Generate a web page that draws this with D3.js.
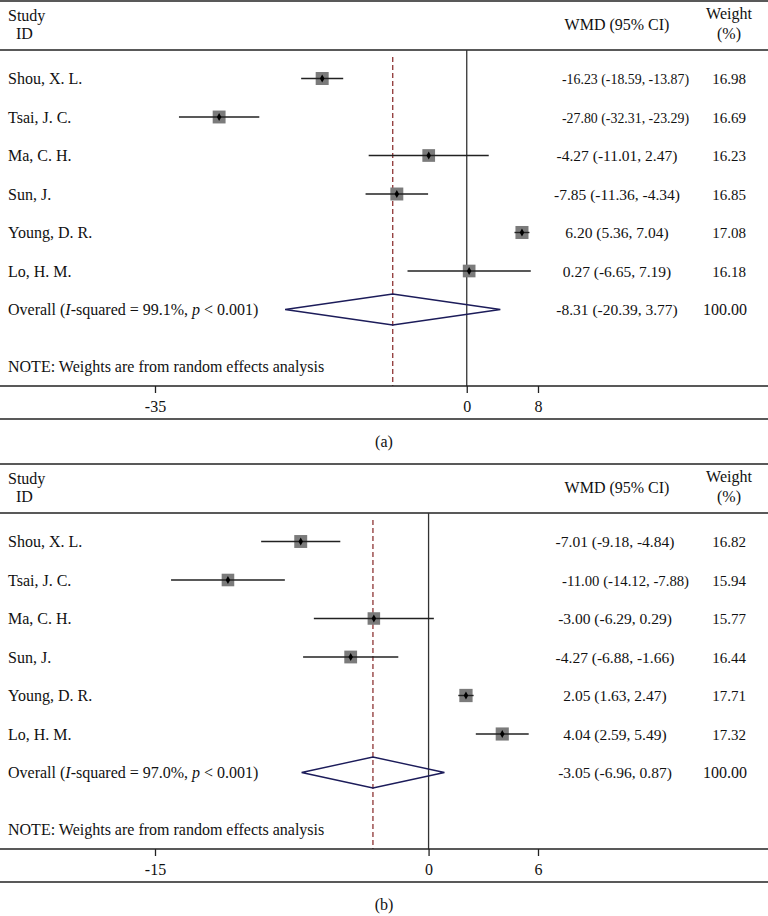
<!DOCTYPE html>
<html><head><meta charset="utf-8">
<script src="https://cdn.jsdelivr.net/npm/d3@7"></script>
<style>
body{margin:0;background:#fff;}
text{font-family:"Liberation Serif","Times New Roman",serif;font-size:16px;fill:#111;}
text.num{font-size:15.5px;}
text.wt{font-size:15px;}
</style></head>
<body><svg id="chart" width="768" height="916"></svg>
<script>
// ---------- DATA ----------
const studies = ["Shou, X. L.", "Tsai, J. C.", "Ma, C. H.", "Sun, J.", "Young, D. R.", "Lo, H. M."];

const estA  = [-16.23, -27.80, -4.27, -7.85, 6.20, 0.27];
const lowA  = [-18.59, -32.31, -11.01, -11.36, 5.36, -6.65];
const highA = [-13.87, -23.29, 2.47, -4.34, 7.04, 7.19];
const wA    = [16.98, 16.69, 16.23, 16.85, 17.08, 16.18];
const overallA = {est: -8.31, low: -20.39, high: 3.77, w: 100.00, i2: "99.1%", p: "0.001"};
const ticksA = [-35, 0, 8];

const estB  = [-7.01, -11.00, -3.00, -4.27, 2.05, 4.04];
const lowB  = [-9.18, -14.12, -6.29, -6.88, 1.63, 2.59];
const highB = [-4.84, -7.88, 0.29, -1.66, 2.47, 5.49];
const wB    = [16.82, 15.94, 15.77, 16.44, 17.71, 17.32];
const overallB = {est: -3.05, low: -6.96, high: 0.87, w: 100.00, i2: "97.0%", p: "0.001"};
const ticksB = [-15, 0, 6];

const captions = ["(a)", "(b)"];
const noteText = "NOTE: Weights are from random effects analysis";

// ---------- DRAW ----------
const svg = d3.select("#chart");
const fmt = v => v.toFixed(2);

function ciText(g, str, cx, y) {
  const t = g.append("text").attr("class", "num").attr("x", cx).attr("y", y).attr("text-anchor", "middle").text(str);
  const nat = t.node().getComputedTextLength();
  if (nat > 128) {
    t.attr("textLength", 127).attr("lengthAdjust", "spacingAndGlyphs").attr("text-anchor", "start").attr("x", 562);
  }
  return t;
}

function panel(y0, est, low, high, w, ov, ticks, caption, numX) {
  const g = svg.append("g").attr("transform", `translate(0,${y0})`);
  const x = d3.scaleLinear().domain([ticks[0], ticks[ticks.length - 1]]).range([155, 538]);
  const rowY = d3.scalePoint().domain(d3.range(7)).range([78.5, 309.5]);
  const axisY = 386, headY = 50;

  // frame lines
  g.append("line").attr("x1", 0).attr("x2", 768).attr("y1", 1).attr("y2", 1).attr("stroke", "#222").attr("stroke-width", 1.5);
  g.append("line").attr("x1", 0).attr("x2", 768).attr("y1", headY).attr("y2", headY).attr("stroke", "#222").attr("stroke-width", 1.5);
  g.append("line").attr("x1", 0).attr("x2", 768).attr("y1", 419).attr("y2", 419).attr("stroke", "#222").attr("stroke-width", 1.5);

  // headers
  g.append("text").attr("x", 8).attr("y", 20.5).text("Study");
  g.append("text").attr("x", 16).attr("y", 39).text("ID");
  g.append("text").attr("x", 617).attr("y", 30).attr("text-anchor", "middle").text("WMD (95% CI)");
  g.append("text").attr("x", 729).attr("y", 19).attr("text-anchor", "middle").text("Weight");
  g.append("text").attr("x", 729).attr("y", 39).attr("text-anchor", "middle").text("(%)");

  // zero line
  g.append("line").attr("x1", x(0)).attr("x2", x(0)).attr("y1", headY).attr("y2", axisY)
    .attr("stroke", "#333").attr("stroke-width", 1.3);
  // overall dashed line
  g.append("line").attr("x1", x(ov.est)).attr("x2", x(ov.est)).attr("y1", headY + 7).attr("y2", axisY)
    .attr("stroke", "#8e3434").attr("stroke-width", 1.3).attr("stroke-dasharray", "5,3");

  studies.forEach((s, i) => {
    const y = rowY(i);
    g.append("text").attr("x", 8).attr("y", y + 5.5).text(s);
    const side = 13 * Math.sqrt(w[i] / 17);
    g.append("rect").attr("x", x(est[i]) - side / 2).attr("y", y - side / 2).attr("width", side).attr("height", side)
      .attr("fill", "#7b7b7b");
    g.append("line").attr("x1", x(low[i])).attr("x2", x(high[i])).attr("y1", y).attr("y2", y)
      .attr("stroke", "#222").attr("stroke-width", 1.4);
    g.append("path").attr("d", d3.symbol().type(d3.symbolDiamond).size(18)()).attr("transform", `translate(${x(est[i])},${y})`)
      .attr("fill", "#000");
    ciText(g, `${fmt(est[i])} (${fmt(low[i])}, ${fmt(high[i])})`, numX, y + 5.5);
    g.append("text").attr("class", "wt").attr("x", 729).attr("y", y + 5.5).attr("text-anchor", "middle").text(fmt(w[i]));
  });

  // overall row
  const oy = rowY(6);
  const t = g.append("text").attr("x", 8).attr("y", oy + 5.5);
  t.append("tspan").text("Overall (");
  t.append("tspan").attr("font-style", "italic").text("I");
  t.append("tspan").text(`-squared = ${ov.i2}, `);
  t.append("tspan").attr("font-style", "italic").text("p");
  t.append("tspan").text(` < ${ov.p})`);
  g.append("path")
    .attr("d", `M${x(ov.low)},${oy} L${x(ov.est)},${oy - 15.5} L${x(ov.high)},${oy} L${x(ov.est)},${oy + 15.5} Z`)
    .attr("fill", "none").attr("stroke", "#1c1c5a").attr("stroke-width", 1.4);
  ciText(g, `${fmt(ov.est)} (${fmt(ov.low)}, ${fmt(ov.high)})`, numX, oy + 5.5);
  g.append("text").attr("x", 725).attr("y", oy + 5.5).attr("text-anchor", "middle").text(fmt(ov.w));

  g.append("text").attr("x", 8).attr("y", 371.5).text(noteText);

  // axis
  const axis = d3.axisBottom(x).tickValues(ticks).tickSize(7).tickPadding(8).tickFormat(d => String(d));
  const ag = g.append("g").attr("transform", `translate(0,${axisY})`).call(axis);
  ag.select(".domain").remove();
  ag.selectAll(".tick line").attr("stroke", "#222").attr("stroke-width", 1.3);
  ag.selectAll(".tick text").attr("font-family", "Liberation Serif, serif").attr("font-size", 15).attr("fill", "#111");
  g.append("line").attr("x1", 0).attr("x2", 768).attr("y1", axisY).attr("y2", axisY).attr("stroke", "#222").attr("stroke-width", 1.5);

  g.append("text").attr("x", 384).attr("y", 447).attr("text-anchor", "middle").text(caption);
}

panel(0, estA, lowA, highA, wA, overallA, ticksA, captions[0], 617);
panel(463, estB, lowB, highB, wB, overallB, ticksB, captions[1], 615);
</script></body></html>
